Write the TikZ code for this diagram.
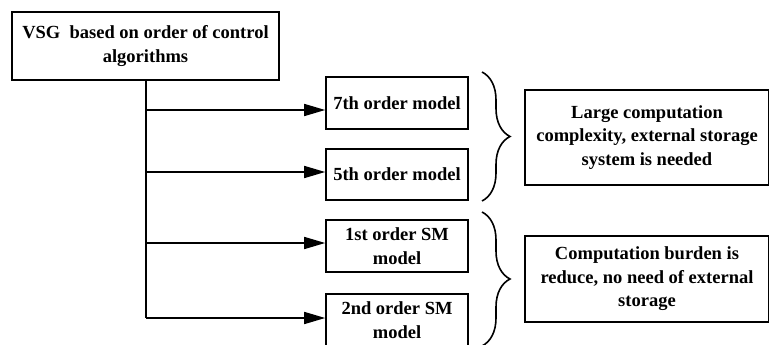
\documentclass[tikz,border=0pt]{standalone}
\usepackage{fontspec}
\setmainfont{Liberation Serif}
\usetikzlibrary{arrows.meta,decorations.pathreplacing}
\begin{document}
\begin{tikzpicture}[x=1pt,y=-1pt,
  box/.style={draw,line width=1.6pt,align=center,font=\fontsize{18.5}{23.5}\selectfont\bfseries,inner sep=0pt},
  arr/.style={line width=1.6pt,-{Triangle[length=21pt,width=12pt]}},
  brc/.style={line width=1.6pt,decorate,decoration={brace,amplitude=28pt,aspect=0.5}}]
\useasboundingbox (0,0) rectangle (769,345);
\node[box,minimum width=267pt,minimum height=68pt] (top) at (145.5,46) {VSG\ \ based on order of control\\algorithms};
\node[box,minimum width=142pt,minimum height=52pt] (m7) at (397,103) {7th order model};
\node[box,minimum width=142pt,minimum height=51pt] (m5) at (397,174.5) {5th order model};
\node[box,minimum width=142pt,minimum height=52pt] (m1) at (397,246) {1st order SM\\model};
\node[box,minimum width=142pt,minimum height=52pt] (m2) at (397,320) {2nd order SM\\model};
\node[box,minimum width=244pt,minimum height=95pt] (r1) at (647,137.5) {Large computation\\complexity, external storage\\system is needed};
\node[box,minimum width=244pt,minimum height=86pt] (r2) at (647,279) {Computation burden is\\reduce, no need of external\\storage};
\coordinate (vbot) at (146,318);
\draw[line width=1.6pt] (top.south -| vbot) -- (vbot);
\draw[arr] (146,110) -- (m7.west |- 0,110);
\draw[arr] (146,172) -- (m5.west |- 0,172);
\draw[arr] (146,243) -- (m1.west |- 0,243);
\draw[arr] (146,318) -- (m2.west |- 0,318);
\coordinate (b1a) at (482,72);
\coordinate (b1b) at (482,201);
\coordinate (b2a) at (482,212);
\coordinate (b2b) at (482,346);
\draw[brc] (b1a) -- (b1b);
\draw[brc] (b2a) -- (b2b);
\end{tikzpicture}
\end{document}
